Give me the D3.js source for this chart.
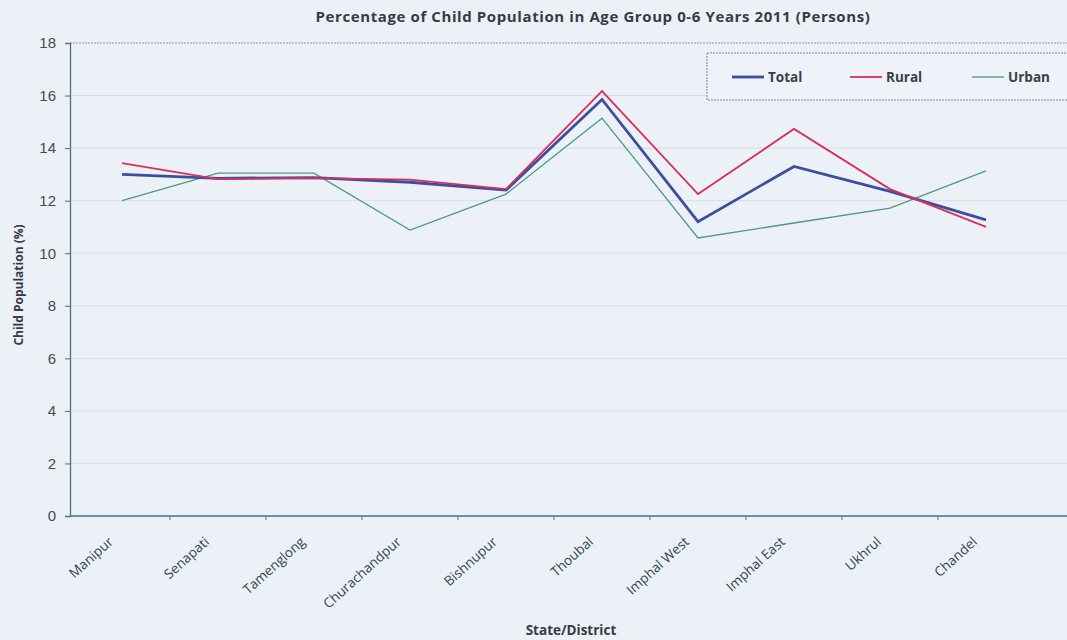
<!DOCTYPE html>
<html><head><meta charset="utf-8">
<script src="https://cdn.jsdelivr.net/npm/d3@7"></script>
<style>
body{margin:0;background:#ecf0f7;}
svg{display:block;}
</style></head>
<body>
<svg id="c" width="1067" height="640"></svg>
<script>
const categories = ["Manipur","Senapati","Tamenglong","Churachandpur","Bishnupur","Thoubal","Imphal West","Imphal  East","Ukhrul","Chandel"];
const totalValues = [13.0, 12.85, 12.88, 12.7, 12.4, 15.85, 11.2, 13.3, 12.35, 11.27];
const ruralValues = [13.43, 12.82, 12.86, 12.8, 12.44, 16.17, 12.25, 14.73, 12.44, 11.0];
const urbanValues = [12.0, 13.05, 13.05, 10.88, 12.25, 15.14, 10.58, 11.15, 11.72, 13.13];
const yTicks = [0,2,4,6,8,10,12,14,16,18];
const seriesNames = ["Total","Rural","Urban"];

(function(){
const svg = d3.select("#c");
const W = 1067, H = 640;
const mLeft = 70, mTop = 43, mBottom = 516, mRight = 1067;

svg.append("rect").attr("width",W).attr("height",H).attr("fill","#ecf0f7");

const x = d3.scaleBand().domain(categories).range([74, 1034]);
const y = d3.scaleLinear().domain([0,18]).range([mBottom, mTop]);

// gridlines
svg.append("g").selectAll("line").data(yTicks.slice(1)).join("line")
  .attr("x1", mLeft).attr("x2", mRight)
  .attr("y1", d=>y(d)).attr("y2", d=>y(d))
  .attr("stroke", d => d===18 ? "#8a98a8" : "#d8dee7").attr("stroke-width",1)
  .attr("stroke-dasharray", d => d===18 ? "2,1" : null);

// y axis
const yAxis = svg.append("g").attr("transform",`translate(${mLeft},0)`)
  .call(d3.axisLeft(y).tickValues(yTicks).tickSize(5).tickPadding(9));
yAxis.select(".domain").attr("stroke","#4d6f86").attr("stroke-width",1.3);
yAxis.selectAll(".tick line").attr("stroke","#4d6f86");
yAxis.selectAll("text").attr("font-family","Liberation Sans, Arial, sans-serif")
  .attr("font-size",15).attr("fill","#4a4a4a");

// x axis
const xAxis = svg.append("g").attr("transform",`translate(0,${mBottom})`)
  .call(d3.axisBottom(x).tickSize(0).tickPadding(0));
xAxis.select(".domain").attr("stroke","#4d6f86").attr("stroke-width",1.5)
  .attr("d", `M${mLeft},0H${mRight}`);
xAxis.selectAll("text")
  .attr("font-family","Open Sans, Liberation Sans, sans-serif")
  .attr("font-size",13.5).attr("fill","#2f4650")
  .attr("text-anchor","end")
  .attr("transform", "translate(-8,27) rotate(-42)")
  .attr("dy","0");
// boundary tick marks
svg.append("g").selectAll("line").data(categories.slice(1)).join("line")
  .attr("x1", d=>x(d)).attr("x2", d=>x(d))
  .attr("y1", mBottom).attr("y2", mBottom+4)
  .attr("stroke","#4d6f86");

// lines
const series = [
  {name:"Total", values: totalValues, color:"#3c4f9c", width:2.8},
  {name:"Rural", values: ruralValues, color:"#d92f5c", width:1.8},
  {name:"Urban", values: urbanValues, color:"#4b9a88", width:1.3}
];
const line = d3.line().x((d,i)=>x(categories[i]) + x.bandwidth()/2).y(d=>y(d));
[series[2], series[0], series[1]].forEach(s=>{
  svg.append("path").datum(s.values).attr("d", line)
    .attr("fill","none").attr("stroke", s.color).attr("stroke-width", s.width)
    .attr("stroke-linejoin","miter");
});

// legend
const lg = svg.append("g");
lg.append("rect").attr("x",707).attr("y",53).attr("width",380).attr("height",47)
  .attr("fill","#eff2f8").attr("stroke","#7f8a99").attr("stroke-width",1).attr("stroke-dasharray","2,1");
const lx = [732, 850, 972];
series.forEach((s,i)=>{
  lg.append("line").attr("x1",lx[i]).attr("x2",lx[i]+32).attr("y1",77).attr("y2",77)
    .attr("stroke",s.color).attr("stroke-width",s.width);
  lg.append("text").attr("x",lx[i]+36).attr("y",82).text(s.name)
    .attr("font-family","Open Sans, Liberation Sans, sans-serif").attr("font-weight","bold")
    .attr("font-size",13.5).attr("fill","#3a3f4a");
});

// titles
svg.append("text").attr("x",593).attr("y",22).attr("text-anchor","middle")
  .attr("font-family","Open Sans, Liberation Sans, sans-serif").attr("font-weight","bold")
  .attr("font-size",15).attr("letter-spacing",0.6).attr("fill","#3a3a44")
  .text("Percentage of Child Population in Age Group 0-6 Years 2011 (Persons)");
svg.append("text").attr("transform","translate(23,285) rotate(-90)").attr("text-anchor","middle")
  .attr("font-family","Open Sans, Liberation Sans, sans-serif").attr("font-weight","bold")
  .attr("font-size",12).attr("fill","#3a3a44").text("Child Population (%)");
svg.append("text").attr("x",571).attr("y",635).attr("text-anchor","middle")
  .attr("font-family","Open Sans, Liberation Sans, sans-serif").attr("font-weight","bold")
  .attr("font-size",13.5).attr("fill","#3a3a44").text("State/District");
})();
</script>
</body></html>
